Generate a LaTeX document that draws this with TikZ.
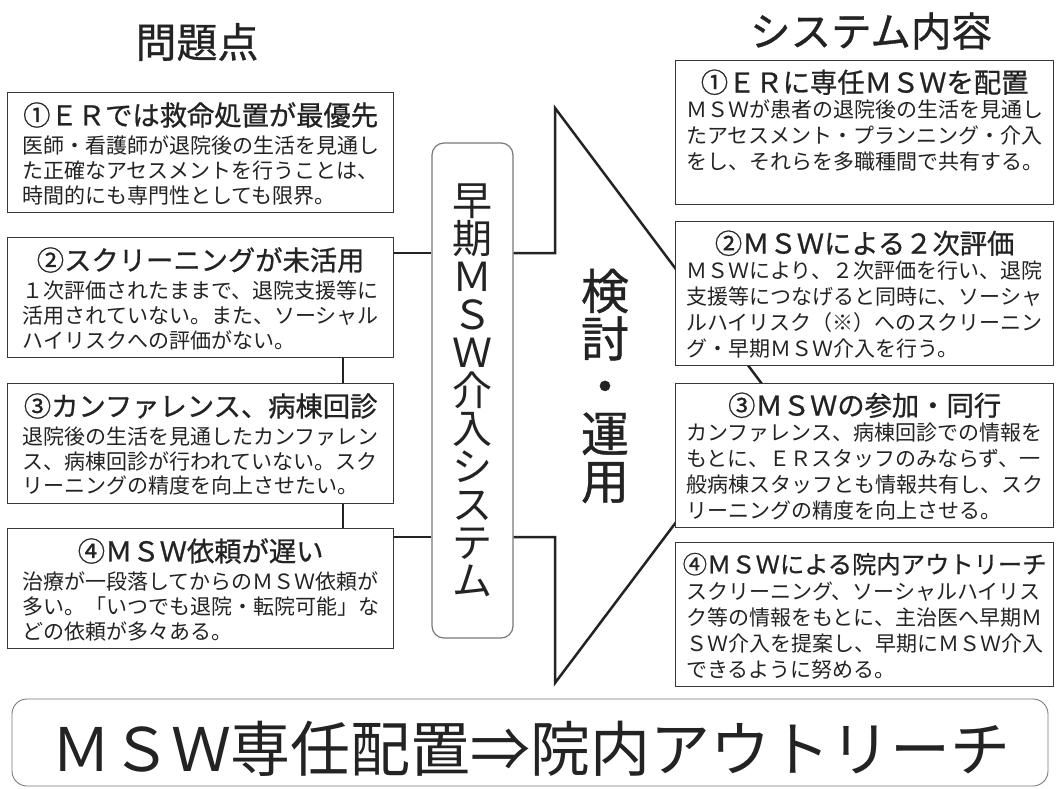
\documentclass[tikz,border=0pt]{standalone}
\usepackage{fontspec}
\setmainfont{Noto Sans CJK JP}
\newfontfamily\heavyfont[FakeBold=0.8]{Noto Sans CJK JP}
\usepackage{tikz}
\usetikzlibrary{positioning,calc}
\definecolor{ink}{RGB}{35,35,35}
\definecolor{frame}{RGB}{55,55,55}
\definecolor{soft}{RGB}{120,120,120}
\newcommand{\tightlines}{\lineskiplimit=-50pt\lineskip=0pt\relax}
\tikzstyle{lbox} = [rectangle, draw=frame, line width=1.3pt, fill=white, minimum width=386pt, minimum height=120pt, anchor=north west, inner sep=0pt]
\tikzstyle{rbox} = [rectangle, draw=frame, line width=1.3pt, fill=white, minimum width=378pt, minimum height=144pt, anchor=north west, inner sep=0pt]
\tikzstyle{hdr} = [inner sep=0pt, text=ink, font=\heavyfont\fontsize{27.3}{30}\selectfont, text height=22.7pt, text depth=1.9pt]
\tikzstyle{body} = [inner sep=0pt, text=ink, align=left, font=\fontsize{21}{26}\selectfont]
\tikzstyle{lbody} = [body, font=\fontsize{21}{24.8}\selectfont]
\tikzstyle{title} = [inner sep=0pt, text=ink, font=\heavyfont\fontsize{41}{44}\selectfont]
\tikzstyle{sys} = [rectangle, rounded corners=12pt, draw=soft, line width=1.2pt, fill=white, minimum width=81pt, minimum height=495pt, inner sep=0pt, align=center, text=ink, font={\fontsize{40}{38}\selectfont\tightlines}]
\tikzstyle{tline} = [draw=ink, line width=2.2pt]

\begin{document}
\begin{tikzpicture}[x=1pt, y=-1pt]
\useasboundingbox (0,0) rectangle (1058,789);

% titles =============================
\node[title] (ttlL) at (197,42) {問題点};
\node[title, font=\heavyfont\fontsize{40.5}{44}\selectfont] (ttlR) at (871,31) {システム内容};

% problems (left) =============================
\node[lbox] (lbox1) at (7,92) {};
\node[hdr, below=10.5pt of lbox1.north] (lhdr1) {①ＥＲでは救命処置が最優先};
\node[lbody, below=8pt of lhdr1] (ltxt1) {医師・看護師が退院後の生活を見通し\\た正確なアセスメントを行うことは、\\時間的にも専門性としても限界。};

\node[lbox] (lbox2) at (7,237) {};
\node[hdr, below=10.5pt of lbox2.north] (lhdr2) {②スクリーニングが未活用};
\node[lbody, below=8pt of lhdr2] (ltxt2) {１次評価されたままで、退院支援等に\\活用されていない。また、ソーシャル\\ハイリスクへの評価がない。};

\node[lbox] (lbox3) at (7,383) {};
\node[hdr, below=10.5pt of lbox3.north] (lhdr3) {③カンファレンス、病棟回診};
\node[lbody, below=8pt of lhdr3] (ltxt3) {退院後の生活を見通したカンファレン\\ス、病棟回診が行われていない。スク\\リーニングの精度を向上させたい。};

\node[lbox] (lbox4) at (7,528) {};
\node[hdr, below=10.5pt of lbox4.north] (lhdr4) {④ＭＳＷ依頼が遅い};
\node[lbody, below=8pt of lhdr4] (ltxt4) {治療が一段落してからのＭＳＷ依頼が\\多い。「いつでも退院・転院可能」な\\どの依頼が多々ある。};

% system + arrow =============================
\node[sys] (sysbox) at (472.5,390.5) {早\\期\\Ｍ\\Ｓ\\Ｗ\\介\\入\\シ\\ス\\テ\\ム};
\node[inner sep=0pt, text=ink, align=center, font={\heavyfont\fontsize{48}{47.5}\selectfont\tightlines}] (kento) at (605,386) {検\\討\\・\\運\\用};

\coordinate (atop) at (555,108);
\coordinate (atip) at (771,396);
\coordinate (abot) at (555,683);
\coordinate (j2) at ([yshift=-16pt]lbox2.north east);
\coordinate (j4) at ([yshift=-9pt]lbox4.north east);

%edges
\draw[tline] ([xshift=-51pt]lbox2.south east) -- ([xshift=-51pt]lbox3.north east);
\draw[tline] ([xshift=-51pt]lbox3.south east) -- ([xshift=-51pt]lbox4.north east);
\draw[tline] (j2) -- (j2 -| sysbox.west);
\draw[tline] (j4) -- (j4 -| sysbox.west);
\draw[tline, line width=2.5pt] (j2 -| sysbox.east) -- (j2 -| atop) -- (atop) -- (atip) -- (abot) -- (j4 -| abot) -- (j4 -| sysbox.east);

% contents (right) =============================
\node[rbox] (rbox1) at (675,60) {};
\node[hdr, below=9.7pt of rbox1.north] (rhdr1) {①ＥＲに専任ＭＳＷを配置};
\node[body, below=5pt of rhdr1] (rtxt1) {ＭＳＷが患者の退院後の生活を見通し\\たアセスメント・プランニング・介入\\をし、それらを多職種間で共有する。};

\node[rbox] (rbox2) at (675,221) {};
\node[hdr, below=9.7pt of rbox2.north] (rhdr2) {②ＭＳＷによる２次評価};
\node[body, below=5pt of rhdr2] (rtxt2) {ＭＳＷにより、２次評価を行い、退院\\支援等につなげると同時に、ソーシャ\\ルハイリスク（※）へのスクリーニン\\グ・早期ＭＳＷ介入を行う。};

\node[rbox] (rbox3) at (675,383) {};
\node[hdr, below=9.7pt of rbox3.north] (rhdr3) {③ＭＳＷの参加・同行};
\node[body, below=5pt of rhdr3] (rtxt3) {カンファレンス、病棟回診での情報を\\もとに、ＥＲスタッフのみならず、一\\般病棟スタッフとも情報共有し、スク\\リーニングの精度を向上させる。};

\node[rbox] (rbox4) at (675,542) {};
\node[hdr, font=\heavyfont\fontsize{24.3}{28}\selectfont, text height=20.2pt, text depth=1.7pt, below=11pt of rbox4.north] (rhdr4) {④ＭＳＷによる院内アウトリーチ};
\node[body, below=6pt of rhdr4] (rtxt4) {スクリーニング、ソーシャルハイリス\\ク等の情報をもとに、主治医へ早期Ｍ\\ＳＷ介入を提案し、早期にＭＳＷ介入\\できるように努める。};

% bottom =============================
\node[rectangle, rounded corners=15pt, draw=soft, line width=0.9pt, minimum width=1036pt, minimum height=87pt, inner sep=0pt] (outbox) at (530,742.5) {};
\node[inner sep=0pt, text=ink, font=\fontsize{60}{64}\selectfont] (outtxt) at (531,749) {ＭＳＷ専任配置⇒院内アウトリーチ};

\end{tikzpicture}
\end{document}
